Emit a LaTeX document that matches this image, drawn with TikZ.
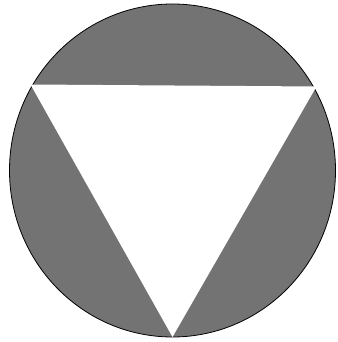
\documentclass[tikz,border=0pt]{standalone}
\usetikzlibrary{calc}
\begin{document}
\begin{tikzpicture}[x=1pt,y=1pt,
  disc/.style={fill=black!55,draw=black,line width=0.8pt},
  hole/.style={fill=white,draw=none}]
\useasboundingbox (0,0) rectangle (337,342);
\fill[white] (0,0) rectangle (337,342);
\coordinate (c) at (172.5,171.5);
\draw[disc] (c) ellipse[x radius=163, y radius=166.5];
\fill[hole] ($(c)+(-142,86)$) -- ($(c)+(144,84)$) -- ($(c)+(0,-166.5)$) -- cycle;
\end{tikzpicture}
\end{document}
